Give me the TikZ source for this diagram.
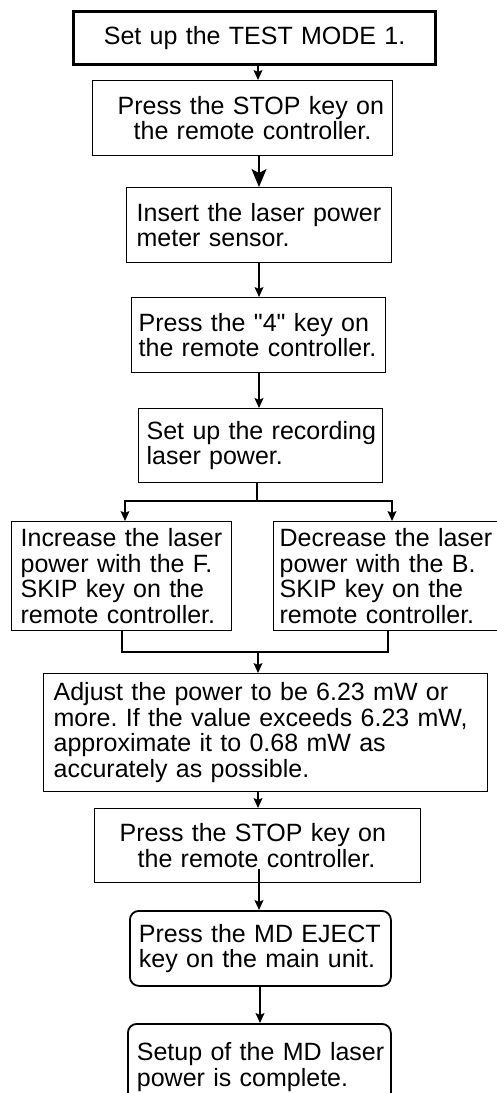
\documentclass[tikz,border=0pt]{standalone}
\usepackage{fontspec}
\setmainfont{Liberation Sans}
\newfontfamily\qfont{Liberation Sans}
\usetikzlibrary{arrows.meta}
\frenchspacing
\begin{document}
\frenchspacing
\begin{tikzpicture}[x=1pt,y=-1pt,
  box/.style={draw, line width=1.3pt, inner ysep=0pt, align=left, anchor=north west,
    font=\fontsize{25}{25.5}\selectfont\frenchspacing},
  thickbox/.style={box, line width=3.2pt, align=center},
  roundbox/.style={box, rounded corners=9pt, line width=1.8pt},
  conn/.style={line width=1.3pt},
  arr/.style={conn, -{Stealth[length=10pt,width=9pt,inset=2pt]}},
  bigarr/.style={conn, -{Stealth[length=18pt,width=15pt,inset=4pt]}}]
\useasboundingbox (0,0) rectangle (497,1093);
\fill[white] (0,0) rectangle (497,1093);
\clip (0,0) rectangle (497,1093);

\node[thickbox, minimum width=362pt, minimum height=53pt, text width=342pt, inner xsep=10pt] (B1) at (72,10)
  {Set up the TEST MODE 1.};
\node[box, minimum width=300pt, minimum height=75pt, text width=250pt, inner xsep=25pt] (B2) at (92,80)
  {\mbox{Press the STOP key on}\\\mbox{\hspace*{16pt}the remote controller.}};
\node[box, minimum width=265pt, minimum height=75pt, text width=245pt, inner xsep=10pt] (B3) at (126,187)
  {\mbox{Insert the laser power}\\\mbox{meter sensor.}};
\node[box, minimum width=254pt, minimum height=75pt, text width=240pt, inner xsep=7pt] (B4) at (131,297)
  {\mbox{Press the {\qfont"}4{\qfont"} key on}\\\mbox{the remote controller.}};
\node[box, minimum width=244pt, minimum height=74pt, text width=228pt, inner xsep=8pt] (B5) at (138,408)
  {\mbox{Set up the recording}\\\mbox{laser power.}};
\node[box, minimum width=220pt, minimum height=109pt, text width=202pt, inner xsep=9pt] (B6L) at (11,521)
  {\mbox{Increase the laser}\\\mbox{power with the F.}\\\mbox{SKIP key on the}\\\mbox{remote controller.}};
\node[box, minimum width=240pt, minimum height=109pt, text width=228pt, inner xsep=6pt] (B6R) at (273,521)
  {\mbox{Decrease the laser}\\\mbox{power with the B.}\\\mbox{SKIP key on the}\\\mbox{remote controller.}};
\node[box, minimum width=444pt, minimum height=118pt, text width=424pt, inner xsep=10pt] (B7) at (43,673)
  {\mbox{Adjust the power to be 6.23 mW or}\\\mbox{more. If the value exceeds 6.23 mW,}\\\mbox{approximate it to 0.68 mW as}\\\mbox{accurately as possible.}};
\node[box, minimum width=326pt, minimum height=74pt, text width=276pt, inner xsep=25pt] (B8) at (94,808)
  {\mbox{Press the STOP key on}\\\mbox{\hspace*{18pt}the remote controller.}};
\node[roundbox, minimum width=261pt, minimum height=75pt, text width=243pt, inner xsep=9pt] (B9) at (129,910)
  {\mbox{Press the MD EJECT}\\\mbox{key on the main unit.}};
\node[roundbox, minimum width=263pt, minimum height=86pt, text width=245pt, inner xsep=9pt] (B10) at (127,1023)
  {\mbox{Setup of the MD laser}\\\mbox{power is complete.}};

\coordinate (c1) at (258,0);
\coordinate (c2) at (259,0);
\coordinate (c3) at (260,0);
\coordinate (xL) at (125,0);
\coordinate (xR) at (392,0);
\coordinate (mL) at (122,0);
\coordinate (mR) at (388,0);
\coordinate (j1) at (257,501);
\coordinate (j2) at (258,652);

\draw[arr] (B1.south -| c1) -- (B2.north -| c1);
\draw[bigarr] (B2.south -| c2) -- (B3.north -| c2);
\draw[arr] (B3.south -| c2) -- (B4.north -| c2);
\draw[arr] (B4.south -| c2) -- (B5.north -| c2);
\draw[conn] (B5.south -| j1) -- (j1);
\draw[arr] (j1) -| (B6L.north -| xL);
\draw[arr] (j1) -| (B6R.north -| xR);
\draw[conn] (B6L.south -| mL) |- (j2);
\draw[conn] (B6R.south -| mR) |- (j2);
\draw[arr] (j2) -- (B7.north -| j2);
\draw[arr] (B7.south -| c1) -- (B8.north -| c1);
\draw[arr] ([yshift=14pt]B8.south -| c2) -- (B9.north -| c2);
\draw[arr] (B9.south -| c3) -- (B10.north -| c3);
\end{tikzpicture}
\end{document}
